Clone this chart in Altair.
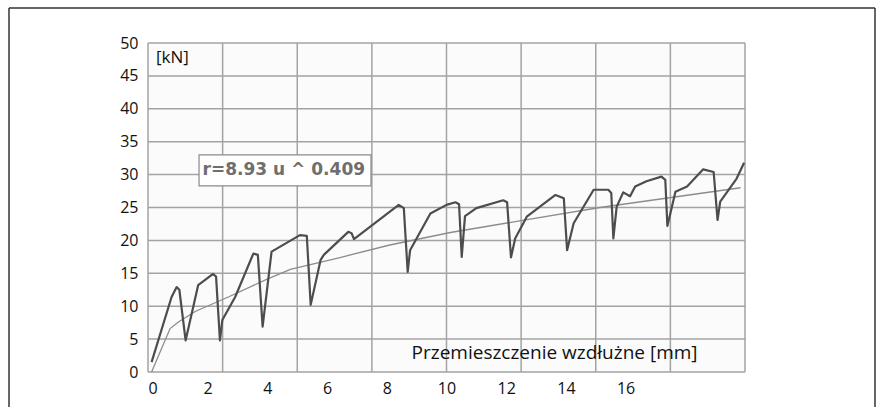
import altair as alt
import pandas as pd

# ---- data ----
disp_mm = [0.12, 0.79, 0.96, 1.05, 1.26, 1.68, 2.18, 2.28, 2.41, 2.49, 2.92, 3.53, 3.68, 3.84,
           4.14, 5.09, 5.32, 5.45, 5.78, 5.89, 6.71, 6.82, 6.90, 8.40, 8.57, 8.70, 8.78, 9.46,
           10.0, 10.3, 10.42, 10.51, 10.62, 11.0, 11.9, 12.03, 12.16, 12.3, 12.69, 13.65, 13.93,
           14.04, 14.26, 14.93, 15.42, 15.52, 15.59, 15.7, 15.92, 16.15, 16.32, 16.7, 17.2,
           17.33, 17.4, 17.67, 18.06, 18.6, 18.95, 19.08, 19.17, 19.72, 19.97]
force_kn = [1.5, 11.4, 12.9, 12.5, 4.8, 13.2, 14.9, 14.5, 4.8, 7.9, 11.4, 18.0, 17.8, 6.9,
            18.3, 20.8, 20.7, 10.2, 17.0, 17.8, 21.3, 21.1, 20.2, 25.4, 24.9, 15.2, 18.5, 24.1,
            25.4, 25.8, 25.5, 17.5, 23.7, 24.9, 26.1, 25.8, 17.4, 20.3, 23.6, 26.9, 26.4,
            18.5, 22.6, 27.7, 27.7, 27.2, 20.3, 25.1, 27.3, 26.7, 28.2, 29.0, 29.7,
            29.2, 22.2, 27.4, 28.2, 30.8, 30.4, 23.1, 25.9, 29.4, 31.8]

trend_u = [0.12, 0.74, 1.02, 1.58, 2.69, 4.03, 4.77, 6.43, 8.1, 10.13, 12.5, 15.14, 19.85]
trend_r = [0.0, 6.6, 7.6, 9.2, 11.4, 14.2, 15.6, 17.4, 19.3, 21.2, 23.0, 25.0, 28.0]

x_grid = [0, 2.5, 5, 7.5, 10, 12.5, 15, 17.5, 20]
y_grid = [0, 5, 10, 15, 20, 25, 30, 35, 40, 45, 50]
x_labels = [0, 2, 4, 6, 8, 10, 12, 14, 16]
y_labels = [0, 5, 10, 15, 20, 25, 30, 35, 40, 45, 50]

unit_label = "[kN]"
x_title = "Przemieszczenie wzdłużne [mm]"
formula = "r=8.93 u ^ 0.409"

# ---- layout ----
W, H = 597, 329
PAD = {"left": 148, "top": 43, "right": 880 - 148 - W, "bottom": 407 - 43 - H}
FONT = "Open Sans"

xs = alt.Scale(domain=[0, 20], nice=False, zero=False)
ys = alt.Scale(domain=[0, 50], nice=False, zero=False)

xaxis = alt.Axis(values=x_labels, grid=False, ticks=False, domain=False, title=None,
                 labelFont=FONT, labelFontSize=16, labelColor="#111111", labelPadding=8,
                 format="d")
yaxis = alt.Axis(values=y_labels, grid=False, ticks=False, domain=False, title=None,
                 labelFont=FONT, labelFontSize=16, labelColor="#111111", labelPadding=10,
                 format="d")

main_df = pd.DataFrame({"u": disp_mm, "r": force_kn, "i": list(range(len(disp_mm)))})
trend_df = pd.DataFrame({"u": trend_u, "r": trend_r, "i": list(range(len(trend_u)))})
xg_df = pd.DataFrame({"g": x_grid})
yg_df = pd.DataFrame({"g": y_grid})

vgrid = alt.Chart(xg_df).mark_rule(color="#a3a3a3", strokeWidth=1.5).encode(
    x=alt.X("g:Q", scale=xs, axis=xaxis))
hgrid = alt.Chart(yg_df).mark_rule(color="#a3a3a3", strokeWidth=1.5).encode(
    y=alt.Y("g:Q", scale=ys, axis=yaxis))

trend = alt.Chart(trend_df).mark_line(color="#8c8c8c", strokeWidth=1.3).encode(
    x=alt.X("u:Q", scale=xs, axis=xaxis),
    y=alt.Y("r:Q", scale=ys, axis=yaxis),
    order="i:Q")

main = alt.Chart(main_df).mark_line(color="#4d4d4d", strokeWidth=2.2,
                                    strokeJoin="round").encode(
    x=alt.X("u:Q", scale=xs, axis=xaxis),
    y=alt.Y("r:Q", scale=ys, axis=yaxis),
    order="i:Q")

box_df = pd.DataFrame({"x1": [1.71], "x2": [7.47], "y1": [28.3], "y2": [33.0]})
box = alt.Chart(box_df).mark_rect(fill="white", stroke="#8a8a8a", strokeWidth=1.2).encode(
    x=alt.X("x1:Q", scale=xs, axis=xaxis), x2="x2:Q",
    y=alt.Y("y1:Q", scale=ys, axis=yaxis), y2="y2:Q")

formula_df = pd.DataFrame({"x": [4.55], "y": [30.65], "t": [formula]})
formula_txt = alt.Chart(formula_df).mark_text(
    font="DejaVu Sans", fontWeight="bold", fontSize=17, color="#6e6e6e",
    align="center", baseline="middle").encode(
    x=alt.X("x:Q", scale=xs, axis=xaxis), y=alt.Y("y:Q", scale=ys, axis=yaxis), text="t:N")

unit_df = pd.DataFrame({"x": [0.27], "y": [47.7], "t": [unit_label]})
unit_txt = alt.Chart(unit_df).mark_text(
    font=FONT, fontSize=17, color="#111111", align="left", baseline="middle").encode(
    x=alt.X("x:Q", scale=xs, axis=xaxis), y=alt.Y("y:Q", scale=ys, axis=yaxis), text="t:N")

xt_df = pd.DataFrame({"x": [13.62], "y": [2.9], "t": [x_title]})
xt_txt = alt.Chart(xt_df).mark_text(
    font=FONT, fontSize=19, color="#111111", align="center", baseline="middle").encode(
    x=alt.X("x:Q", scale=xs, axis=xaxis), y=alt.Y("y:Q", scale=ys, axis=yaxis), text="t:N")

# outer frame (decoration around the figure)
one = pd.DataFrame({"a": [0]})
fl, ft, fr, fb = 9 - 148, 8 - 43, 875 - 148, 407 - 43 + 5
frame_left = alt.Chart(one).mark_rule(color="#333333", strokeWidth=1.5, clip=False).encode(
    x=alt.value(fl), y=alt.value(ft), y2=alt.value(fb))
frame_top = alt.Chart(one).mark_rule(color="#333333", strokeWidth=1.5, clip=False).encode(
    x=alt.value(fl), x2=alt.value(fr), y=alt.value(ft))
frame_right = alt.Chart(one).mark_rule(color="#333333", strokeWidth=1.5, clip=False).encode(
    x=alt.value(fr), y=alt.value(ft), y2=alt.value(fb))

chart = alt.layer(
    vgrid, hgrid, trend, main, box, formula_txt, unit_txt, xt_txt,
    frame_left, frame_top, frame_right
).properties(
    width=W, height=H,
    autosize=alt.AutoSizeParams(type="none"),
    padding=PAD,
    background="white",
).configure_view(stroke=None, fill="#fbfbfb")

chart.save("out.html", embed_options={"renderer": "svg", "actions": False})
